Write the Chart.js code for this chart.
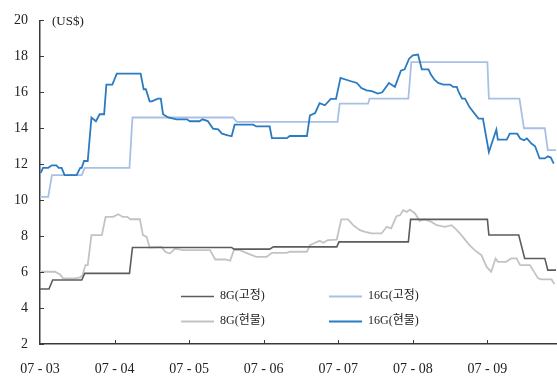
<!DOCTYPE html>
<html>
<head>
<meta charset="utf-8">
<script src="https://cdn.jsdelivr.net/npm/chart.js@4/dist/chart.umd.min.js"></script>
<style>
  html, body { margin: 0; padding: 0; background: #fff; }
  canvas { display: block; }
</style>
</head>
<body>
<canvas id="c" width="557" height="378"></canvas>
<script>
// Month labels on the x axis (one per month, at integer positions)
const monthLabels = ['07 - 03', '07 - 04', '07 - 05', '07 - 06', '07 - 07', '07 - 08', '07 - 09'];
const unitLabel = '(US$)';
const seriesNames = ['8G(고정)', '16G(고정)', '8G(현물)', '16G(현물)'];

// x positions are in months from the start of 07-03; values are US$
const g8FixedX  = [0, 0.12, 0.17, 0.56, 0.60, 1.20, 1.24, 2.57, 2.60, 3.08, 3.13, 3.98, 4.01, 4.94, 4.97, 6.00, 6.02, 6.42, 6.50, 6.77, 6.81, 6.92];
const g8FixedY  = [5.06, 5.06, 5.56, 5.56, 5.93, 5.93, 7.37, 7.37, 7.28, 7.28, 7.40, 7.40, 7.68, 7.68, 8.93, 8.93, 8.06, 8.06, 6.76, 6.76, 6.11, 6.11];

const g16FixedX = [0, 0.11, 0.16, 0.56, 0.60, 1.20, 1.24, 2.59, 2.64, 3.99, 4.02, 4.40, 4.42, 4.94, 4.98, 6.00, 6.02, 6.43, 6.49, 6.77, 6.81, 6.92];
const g16FixedY = [10.18, 10.18, 11.39, 11.39, 11.80, 11.80, 14.60, 14.60, 14.35, 14.35, 15.37, 15.37, 15.65, 15.65, 17.68, 17.68, 15.65, 15.65, 14.00, 14.00, 12.78, 12.78];

const g8SpotX = [0, 0.20, 0.27, 0.31, 0.47, 0.54, 0.57, 0.61, 0.64, 0.69, 0.83, 0.88, 0.98, 1.05, 1.11, 1.17, 1.21, 1.34, 1.38, 1.43, 1.47, 1.63, 1.68, 1.74, 1.81, 1.92, 2.18, 2.28, 2.35, 2.49, 2.55, 2.60, 2.68, 2.79, 2.90, 3.04, 3.11, 3.31, 3.35, 3.58, 3.62, 3.69, 3.75, 3.80, 3.86, 3.98, 4.04, 4.13, 4.20, 4.29, 4.36, 4.45, 4.58, 4.65, 4.71, 4.78, 4.83, 4.87, 4.92, 4.96, 5.03, 5.09, 5.16, 5.25, 5.32, 5.43, 5.52, 5.59, 5.67, 5.76, 5.83, 5.92, 5.99, 6.05, 6.11, 6.14, 6.25, 6.32, 6.39, 6.44, 6.57, 6.68, 6.72, 6.86, 6.90];
const g8SpotY = [6.02, 6.02, 5.87, 5.65, 5.65, 5.70, 5.83, 6.39, 6.39, 8.06, 8.06, 9.07, 9.07, 9.22, 9.07, 9.07, 8.94, 8.94, 8.06, 7.96, 7.37, 7.40, 7.13, 7.03, 7.30, 7.22, 7.22, 7.22, 6.70, 6.70, 6.63, 7.22, 7.22, 7.03, 6.85, 6.85, 7.07, 7.07, 7.13, 7.13, 7.50, 7.63, 7.74, 7.63, 7.78, 7.81, 8.93, 8.93, 8.61, 8.33, 8.24, 8.15, 8.15, 8.52, 8.43, 9.11, 9.17, 9.44, 9.35, 9.48, 9.26, 8.85, 8.93, 8.79, 8.61, 8.52, 8.61, 8.33, 7.96, 7.50, 7.22, 6.94, 6.29, 6.02, 6.76, 6.57, 6.57, 6.76, 6.76, 6.39, 6.39, 5.65, 5.59, 5.59, 5.33];

const g16SpotX = [0.01, 0.04, 0.11, 0.16, 0.22, 0.25, 0.29, 0.33, 0.49, 0.54, 0.56, 0.59, 0.64, 0.69, 0.75, 0.80, 0.86, 0.89, 0.97, 1.03, 1.35, 1.39, 1.42, 1.47, 1.50, 1.58, 1.62, 1.65, 1.72, 1.83, 1.97, 2.01, 2.14, 2.18, 2.25, 2.32, 2.39, 2.44, 2.52, 2.57, 2.61, 2.86, 2.90, 3.08, 3.11, 3.31, 3.35, 3.58, 3.62, 3.69, 3.75, 3.82, 3.90, 3.97, 4.03, 4.16, 4.25, 4.31, 4.38, 4.45, 4.53, 4.59, 4.68, 4.76, 4.84, 4.89, 4.95, 5.00, 5.07, 5.12, 5.21, 5.24, 5.29, 5.34, 5.41, 5.50, 5.54, 5.59, 5.61, 5.66, 5.70, 5.76, 5.88, 5.94, 6.02, 6.12, 6.14, 6.26, 6.30, 6.40, 6.44, 6.49, 6.53, 6.59, 6.64, 6.70, 6.77, 6.81, 6.85, 6.89];
const g16SpotY = [11.52, 11.80, 11.80, 11.94, 11.94, 11.80, 11.80, 11.39, 11.39, 11.80, 11.80, 12.18, 12.18, 14.60, 14.39, 14.78, 14.78, 16.43, 16.43, 17.04, 17.04, 16.17, 16.17, 15.50, 15.50, 15.65, 15.65, 14.78, 14.60, 14.50, 14.50, 14.39, 14.39, 14.50, 14.40, 13.98, 13.94, 13.70, 13.60, 13.56, 14.20, 14.20, 14.10, 14.10, 13.45, 13.45, 13.57, 13.57, 14.72, 14.85, 15.40, 15.28, 15.63, 15.63, 16.80, 16.63, 16.52, 16.24, 16.11, 16.06, 15.93, 16.00, 16.52, 16.30, 17.20, 17.28, 17.87, 18.06, 18.10, 17.28, 17.28, 17.00, 16.70, 16.52, 16.43, 16.43, 16.30, 16.30, 16.07, 15.65, 15.65, 15.18, 14.54, 14.54, 12.68, 13.93, 13.37, 13.37, 13.70, 13.70, 13.43, 13.33, 13.43, 13.15, 13.00, 12.32, 12.32, 12.44, 12.37, 12.03];

const yTicks = [2, 4, 6, 8, 10, 12, 14, 16, 18, 20];

function pts(xs, ys) { return xs.map((x, i) => ({ x: x, y: ys[i] })); }

const serif = "'Liberation Serif', 'Noto Sans CJK KR', serif";
const axisColor = '#3a3a3a';

// Short tick marks pointing into the plot, the unit label and the legend
const decorations = {
  id: 'decorations',
  afterDraw(chart) {
    const ctx = chart.ctx;
    const xs = chart.scales.x, ys = chart.scales.y;
    const area = chart.chartArea;
    ctx.save();
    ctx.strokeStyle = axisColor;
    ctx.lineWidth = 1;
    yTicks.forEach(v => {
      const py = Math.round(ys.getPixelForValue(v)) + 0.5;
      ctx.beginPath();
      ctx.moveTo(area.left, py);
      ctx.lineTo(area.left + 4, py);
      ctx.stroke();
    });
    monthLabels.forEach((_, i) => {
      if (i === 0) return;
      const px = Math.round(xs.getPixelForValue(i)) + 0.5;
      ctx.beginPath();
      ctx.moveTo(px, area.bottom);
      ctx.lineTo(px, area.bottom - 4);
      ctx.stroke();
    });

    // unit label
    ctx.fillStyle = '#222';
    ctx.font = '13px ' + serif;
    ctx.textBaseline = 'middle';
    ctx.textAlign = 'left';
    ctx.fillText(unitLabel, area.left + 12, ys.getPixelForValue(20) + 1);

    // legend: two columns, two rows
    const order = [0, 1, 2, 3];
    const colX = [181, 329];
    const rowY = [296, 321];
    ctx.font = '12px ' + serif;
    order.forEach((di, k) => {
      const ds = chart.data.datasets[di];
      const cx = colX[k % 2], cy = rowY[Math.floor(k / 2)];
      ctx.strokeStyle = ds.borderColor;
      ctx.lineWidth = ds.borderWidth;
      ctx.beginPath();
      ctx.moveTo(cx, cy + 0.5);
      ctx.lineTo(cx + 33, cy + 0.5);
      ctx.stroke();
      ctx.fillStyle = '#222';
      ctx.fillText(ds.label, cx + 39, cy);
    });
    ctx.restore();
  }
};

new Chart(document.getElementById('c'), {
  type: 'line',
  data: {
    datasets: [
      { label: seriesNames[0], data: pts(g8FixedX, g8FixedY), borderColor: '#5c5c5c', borderWidth: 1.6, order: 2 },
      { label: seriesNames[1], data: pts(g16FixedX, g16FixedY), borderColor: '#a9c0e6', borderWidth: 1.8, order: 3 },
      { label: seriesNames[2], data: pts(g8SpotX, g8SpotY), borderColor: '#c3c3c3', borderWidth: 1.8, order: 4 },
      { label: seriesNames[3], data: pts(g16SpotX, g16SpotY), borderColor: '#2a7bc1', borderWidth: 1.8, order: 1 }
    ]
  },
  options: {
    responsive: false,
    animation: false,
    parsing: true,
    elements: { point: { radius: 0 }, line: { tension: 0, fill: false } },
    layout: { padding: { top: 20, right: 1, left: 0, bottom: 0 } },
    plugins: { legend: { display: false }, tooltip: { enabled: false } },
    scales: {
      x: {
        type: 'linear',
        min: 0,
        max: 6.92,
        afterFit(s) { s.height = 34; },
        afterBuildTicks(s) { s.ticks = monthLabels.map((_, i) => ({ value: i })); },
        grid: { display: false, drawTicks: false },
        border: { display: true, color: axisColor, width: 1.5 },
        ticks: {
          padding: 17,
          color: '#222',
          font: { family: serif, size: 14 },
          maxRotation: 0,
          autoSkip: false,
          callback: (v) => monthLabels[v] ?? ''
        }
      },
      y: {
        min: 2,
        max: 20,
        afterFit(s) { s.width = 40; },
        afterBuildTicks(s) { s.ticks = yTicks.map(v => ({ value: v })); },
        grid: { display: false, drawTicks: false },
        border: { display: true, color: axisColor, width: 1.5 },
        ticks: {
          padding: 12,
          color: '#222',
          font: { family: serif, size: 14 },
          callback: (v) => String(v)
        }
      }
    }
  },
  plugins: [decorations]
});
</script>
</body>
</html>
